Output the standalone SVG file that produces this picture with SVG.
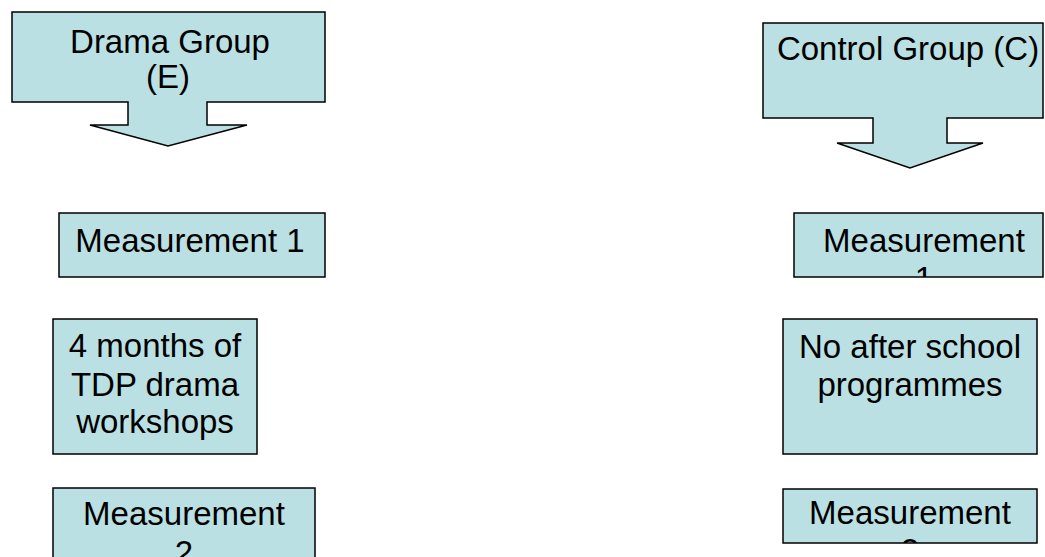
<svg xmlns="http://www.w3.org/2000/svg" width="1045" height="557" viewBox="0 0 1045 557">
<style>
.box{fill:#BBE0E3;stroke:#000;stroke-width:1.5}
.t{font-family:"Liberation Sans",Arial,sans-serif;font-size:33px;fill:#000;text-anchor:middle}
</style>
<defs>
<clipPath id="cM1R"><rect x="794" y="213" width="249" height="64"/></clipPath>
<clipPath id="cM2L"><rect x="53" y="488" width="262" height="69"/></clipPath>
<clipPath id="cM2R"><rect x="783" y="489" width="254" height="54"/></clipPath>
</defs>
<rect width="1045" height="557" fill="#fff"/>
<g id="drama-group">
<path class="box" d="M12,12 H325 V102 H207 V125 H247 L168,146 L90,125 H128 V102 H12 Z"/>
<text class="t" x="170" y="53">Drama Group</text>
<text class="t" x="168" y="88">(E)</text>
</g>
<g id="control-group">
<path class="box" d="M763,23 H1043 V118 H947 V143 H983 L910,168 L837,143 H873 V118 H763 Z"/>
<text class="t" x="908" y="60">Control Group (C)</text>
</g>
<g id="measurement1-e">
<rect class="box" x="59" y="213" width="266" height="64"/>
<text class="t" x="190" y="252">Measurement 1</text>
</g>
<g id="measurement1-c">
<rect class="box" x="794" y="213" width="249" height="64"/>
<g clip-path="url(#cM1R)">
<text class="t" x="924" y="252">Measurement</text>
<text class="t" x="924" y="290">1</text>
</g>
</g>
<g id="workshops">
<rect class="box" x="53" y="319" width="204" height="135"/>
<text class="t" x="155" y="357">4 months of</text>
<text class="t" x="155" y="396">TDP drama</text>
<text class="t" x="155" y="433">workshops</text>
</g>
<g id="no-programmes">
<rect class="box" x="783" y="319" width="254" height="135"/>
<text class="t" x="910" y="358">No after school</text>
<text class="t" x="910" y="396">programmes</text>
</g>
<g id="measurement2-e">
<rect class="box" x="53" y="488" width="262" height="75"/>
<g clip-path="url(#cM2L)">
<text class="t" x="184" y="525">Measurement</text>
<text class="t" x="184" y="564">2</text>
</g>
</g>
<g id="measurement2-c">
<rect class="box" x="783" y="489" width="254" height="54"/>
<g clip-path="url(#cM2R)">
<text class="t" x="910" y="524">Measurement</text>
<text class="t" x="910" y="562">2</text>
</g>
</g>
<g id="connectors"></g>
</svg>
